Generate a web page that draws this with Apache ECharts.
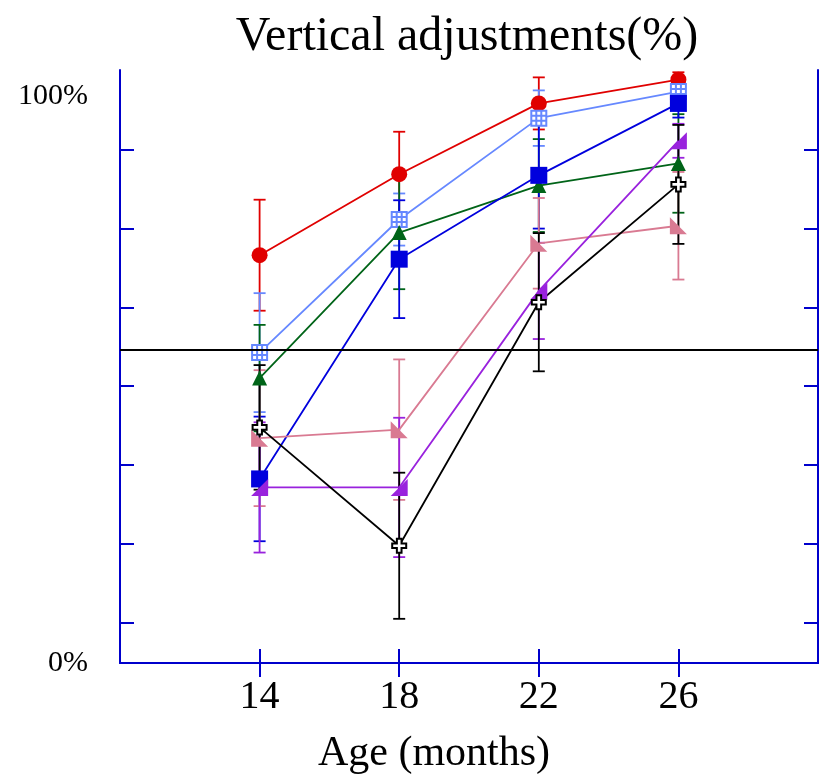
<!DOCTYPE html>
<html lang="en">
<head>
    <meta charset="UTF-8">
    <title>Vertical adjustments</title>
    <script src="https://cdn.jsdelivr.net/npm/echarts@6/dist/echarts.min.js"></script>
</head>
<body style="margin:0">
    <div id="main" style="width: 823px;height:780px;"></div>
    <script type="text/javascript">
        // ages on the x axis
        const ages = [14, 18, 22, 26];
        // group means (%) and half error bars
        const redMean = [72.0, 86.3, 98.8, 103.0];
        const redErr = [9.8, 7.5, 4.6, 1.3];
        const lightBlueMean = [54.8, 78.3, 96.2, 100.9];
        const lightBlueErr = [10.5, 4.6, 4.9, 1.5];
        const greenMean = [50.3, 76.0, 84.3, 88.2];
        const greenErr = [9.4, 10.0, 8.2, 8.7];
        const blueMean = [32.5, 71.3, 86.1, 98.8];
        const blueErr = [11.0, 10.4, 9.4, 2.5];
        const pinkMean = [39.7, 41.2, 74.1, 77.2];
        const pinkErr = [12.0, 12.4, 8.0, 9.5];
        const purpleMean = [31.0, 31.0, 65.7, 92.2];
        const purpleErr = [11.5, 12.3, 8.5, 3.0];
        const blackMean = [41.6, 20.7, 63.7, 84.5];
        const blackErr = [11.0, 12.9, 12.2, 10.5];
        // reference line and axis ticks
        const chanceLevel = 55.3;
        const yTicks = [7.1, 21.0, 35.0, 48.9, 62.8, 76.7, 90.6];
        const yLabels = [0, 100];

        const frameBlue = '#0000cc';
        const serif = 'Liberation Serif';

        const gridSquare = 'path://M0 0 L12 0 L12 12 L0 12 Z M4 0 L4 12 M8 0 L8 12 M0 4 L12 4 M0 8 L12 8';
        const openCross = 'path://M4 0 L8 0 L8 4 L12 4 L12 8 L8 8 L8 12 L4 12 L4 8 L0 8 L0 4 L4 4 Z';
        const triLeft = 'path://M0 0 L0 12 L12 12 Z';
        const triRight = 'path://M12 0 L12 12 L0 12 Z';

        const groups = [
            { mean: redMean, err: redErr, color: '#e00000', symbol: 'circle', size: 16 },
            { mean: lightBlueMean, err: lightBlueErr, color: '#6688ff', symbol: gridSquare, size: 15, fill: '#ffffff' },
            { mean: greenMean, err: greenErr, color: '#006418', symbol: 'triangle', size: 15 },
            { mean: blueMean, err: blueErr, color: '#0000dd', symbol: 'rect', size: 17 },
            { mean: pinkMean, err: pinkErr, color: '#d97a92', symbol: triLeft, size: 17 },
            { mean: purpleMean, err: purpleErr, color: '#9922dd', symbol: triRight, size: 17 },
            { mean: blackMean, err: blackErr, color: '#000000', symbol: openCross, size: 14, fill: '#ffffff' }
        ];

        function errorBars(color) {
            return function (params, api) {
                const x = api.value(0);
                const lo = api.coord([x, api.value(1)]);
                const hi = api.coord([x, api.value(2)]);
                const w = 6;
                const style = { stroke: color, lineWidth: 1.8 };
                return {
                    type: 'group',
                    children: [
                        { type: 'line', shape: { x1: lo[0], y1: lo[1], x2: hi[0], y2: hi[1] }, style: style },
                        { type: 'line', shape: { x1: lo[0] - w, y1: lo[1], x2: lo[0] + w, y2: lo[1] }, style: style },
                        { type: 'line', shape: { x1: hi[0] - w, y1: hi[1], x2: hi[0] + w, y2: hi[1] }, style: style }
                    ]
                };
            };
        }

        const series = [];
        groups.forEach(function (g) {
            series.push({
                type: 'custom',
                renderItem: errorBars(g.color),
                encode: { x: 0, y: [1, 2] },
                data: ages.map((a, i) => [a, g.mean[i] - g.err[i], g.mean[i] + g.err[i]]),
                z: 2
            });
        });
        groups.forEach(function (g) {
            series.push({
                type: 'line',
                data: ages.map((a, i) => [a, g.mean[i]]),
                symbol: g.symbol,
                symbolSize: g.size,
                lineStyle: { color: g.color, width: 1.8 },
                itemStyle: g.fill
                    ? { color: g.fill, borderColor: g.color, borderWidth: 2 }
                    : { color: g.color },
                z: 3
            });
        });
        // horizontal reference line
        series.push({
            type: 'line',
            data: [],
            markLine: {
                silent: true,
                symbol: 'none',
                label: { show: false },
                lineStyle: { color: '#000', width: 2, type: 'solid' },
                data: [{ yAxis: chanceLevel }]
            }
        });

        const blueLine = { lineStyle: { color: frameBlue, width: 2 } };

        let options = {
            animation: false,
            title: {
                text: 'Vertical adjustments(%)',
                left: 462,
                textAlign: 'center',
                top: 8,
                textStyle: { fontFamily: serif, fontSize: 48, fontWeight: 'normal', color: '#000' }
            },
            grid: { left: 120, width: 698, top: 70, height: 602 },
            xAxis: [
                {
                    type: 'value', min: 10, max: 30, position: 'bottom',
                    axisLine: blueLine,
                    axisTick: { customValues: ages, inside: true, length: 14, lineStyle: { color: frameBlue, width: 2 } },
                    axisLabel: { customValues: ages, fontFamily: serif, fontSize: 40, color: '#000', margin: 14 },
                    splitLine: { show: false },
                    name: 'Age (months)',
                    nameLocation: 'middle',
                    nameGap: 70,
                    nameTextStyle: { fontFamily: serif, fontSize: 42, color: '#000', padding: [0, 70, 0, 0] }
                },
                {
                    type: 'value', min: 10, max: 30, position: 'top',
                    axisLine: blueLine,
                    axisTick: { customValues: ages, inside: true, length: 14, lineStyle: { color: frameBlue, width: 2 } },
                    axisLabel: { show: false },
                    splitLine: { show: false }
                }
            ],
            yAxis: [
                {
                    type: 'value', min: 0, max: 104.7, position: 'left',
                    axisLine: { show: true, lineStyle: { color: frameBlue, width: 2 } },
                    axisTick: { show: true, customValues: yTicks, inside: true, length: 14, lineStyle: { color: frameBlue, width: 2 } },
                    axisLabel: { customValues: yLabels, formatter: '{value}%', fontFamily: serif, fontSize: 30, color: '#000', margin: 32 },
                    splitLine: { show: false }
                },
                {
                    type: 'value', min: 0, max: 104.7, position: 'right',
                    axisLine: { show: true, lineStyle: { color: frameBlue, width: 2 } },
                    axisTick: { show: true, customValues: yTicks, inside: true, length: 14, lineStyle: { color: frameBlue, width: 2 } },
                    axisLabel: { show: false },
                    splitLine: { show: false }
                }
            ],
            series: series
        };

        let myChart = echarts.init(document.getElementById('main'));
        myChart.setOption(options);
    </script>
</body>
</html>
